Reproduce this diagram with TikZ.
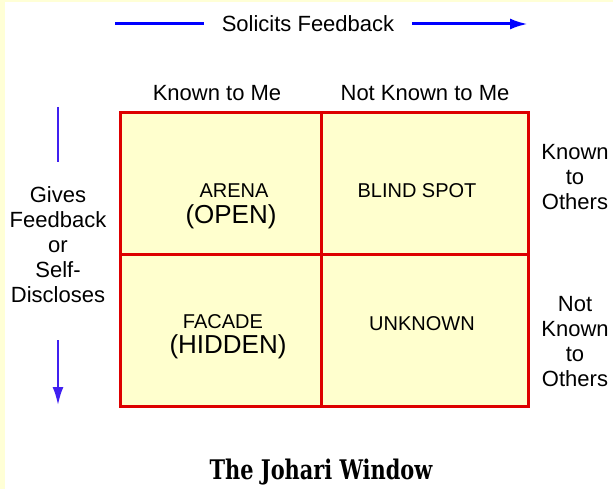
\documentclass[tikz,border=0pt]{standalone}
\usepackage{fontspec}
\setmainfont{Liberation Sans}
\newfontfamily\titlefont{DejaVu Serif Condensed}
\usetikzlibrary{arrows.meta,positioning}
\definecolor{paneyellow}{RGB}{255,255,206}
\definecolor{edgeyellow}{RGB}{255,255,214}
\definecolor{framered}{RGB}{221,0,0}
\definecolor{feedblue}{RGB}{0,0,255}
\definecolor{discloseblue}{RGB}{64,32,240}

\begin{document}
\begin{tikzpicture}[
    x=1pt, y=1pt,
    sidetext/.style={
      font=\fontsize{22}{25}\selectfont,
      align=center,
      inner sep=0pt
    },
    quadrant/.style={
      font=\fontsize{20}{22}\selectfont,
      inner sep=0pt,
      anchor=base
    },
    nickname/.style={
      font=\fontsize{26}{28}\selectfont,
      inner sep=0pt,
      anchor=base
    },
    window/.style={draw=framered, line width=3pt},
    topline/.style={feedblue, line width=3pt},
    sideline/.style={discloseblue, line width=2pt},
    arrow/.style={-{Latex[length=18pt,width=11pt]}}
  ]
    % page and its pale edge
    \useasboundingbox (0,0) rectangle (613,-489);
    \fill[white] (0,0) rectangle (613,-489);
    \fill[edgeyellow] (0,0) rectangle (5,-489);
    \fill[edgeyellow] (0,0) rectangle (613,-2);

    % the four panes
    \fill[paneyellow] (120,-113) rectangle (528,-406);
    \draw[window] (120,-113) rectangle (528,-406);
    \draw[window] (321,-113) -- (321,-406);
    \draw[window] (120,-254) -- (528,-254);

    \node[quadrant] (arena) at (234,-198) {ARENA};
    \node[nickname] (open) at (231,-224) {(OPEN)};
    \node[quadrant] (blind) at (417,-198) {BLIND SPOT};
    \node[quadrant] (facade) at (223,-328) {FACADE};
    \node[nickname] (hidden) at (228,-353) {(HIDDEN)};
    \node[quadrant] (unknown) at (422,-330) {UNKNOWN};

    % headings round the window
    \node[sidetext, anchor=base] (knownme) at (217,-101) {Known to Me};
    \node[sidetext, anchor=base] (notknownme) at (425,-101) {Not Known to Me};
    \node[sidetext] (knownothers) at (575,-177) {Known\\to\\Others};
    \node[sidetext] (notknownothers) at (575,-342) {Not\\Known\\to\\Others};

    % feedback arrows
    \node[sidetext, inner xsep=18pt] (solicit) at (308,-24) {Solicits Feedback};
    \coordinate (solA) at (115,-24);
    \coordinate (solB) at (528,-24);
    \draw[topline] (solA) -- (solicit.west);
    \draw[topline, arrow] (solicit.east) -- (solB);

    \node[sidetext, inner ysep=25pt] (gives) at (58,-245)
      {Gives\\Feedback\\or\\Self-\\Discloses};
    \coordinate (giveA) at (58,-107);
    \coordinate (giveB) at (58,-405);
    \draw[sideline] (giveA) -- (gives.north);
    \draw[sideline, arrow, shorten <=12pt] (gives.south) -- (giveB);

    \node[font=\titlefont\bfseries\fontsize{27}{30}\selectfont, inner sep=0pt,
      anchor=base] (johari) at (321,-479) {\scalebox{0.86}[1]{The Johari Window}};
\end{tikzpicture}
\end{document}
